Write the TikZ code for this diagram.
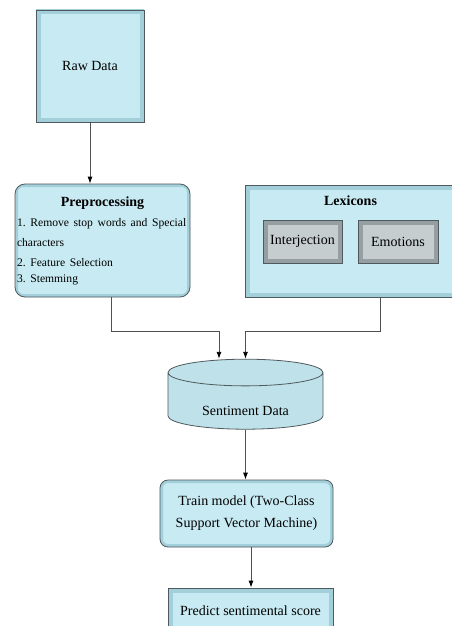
\documentclass[tikz,border=0pt]{standalone}
\usepackage{fontspec}
\setmainfont{Liberation Serif}
\usetikzlibrary{arrows.meta, shapes.geometric}
\frenchspacing

\definecolor{boxblue}{HTML}{C8EAF2}
\definecolor{bevelblue}{HTML}{A3CFDA}
\definecolor{cylblue}{HTML}{BFE2EA}
\definecolor{edgegray}{HTML}{4F5A5E}
\definecolor{innergray}{HTML}{C5CDCE}
\definecolor{bevelgray}{HTML}{959EA0}
\definecolor{linkgray}{HTML}{505050}

\tikzset{
  box/.style={draw=edgegray, line width=0.8pt, fill=boxblue, font=\fontsize{14}{16}\selectfont},
  bevel/.style={path picture={\draw[#1, line width=9pt] (path picture bounding box.north west) rectangle (path picture bounding box.south east);}},
  softedge/.style={path picture={\draw[#1, line width=6pt, rounded corners=8pt] (path picture bounding box.north west) rectangle (path picture bounding box.south east);}},
  innerbox/.style={draw=edgegray, line width=0.8pt, fill=innergray, bevel=bevelgray, font=\fontsize{14}{16}\selectfont},
  cyl/.style={draw=edgegray, line width=0.8pt, fill=cylblue, cylinder, shape border rotate=90, aspect=4},
  link/.style={draw=linkgray, line width=0.9pt, -{Latex[length=7pt, width=5pt, color=black]}}
}

\begin{document}
\begin{tikzpicture}[x=1pt, y=-1pt]
  \useasboundingbox[fill=white] (0,0) rectangle (452,626);

  % input side
  \node[box, bevel=bevelblue, minimum width=108pt, minimum height=112pt] (raw) at (90,66) {Raw Data};
  \node[box, rounded corners=10pt, softedge=bevelblue, minimum width=175pt, minimum height=113pt,
        text width=171pt, align=left, inner xsep=2pt] (pre) at (102.5,240.5)
    {{\centering\bfseries Preprocessing\par}
     \fontsize{11.6}{20}\selectfont
     \mbox{1. Remove stop words and Special}\\ characters\\ 2. Feature Selection\\ 3. Stemming};
  \node[box, bevel=bevelblue, minimum width=211pt, minimum height=112pt,
        label={[anchor=north, yshift=-8pt, font=\fontsize{14}{16}\selectfont\bfseries]north:Lexicons}] (lex) at (350.5,241) {};
  \node[innerbox, minimum width=79pt, minimum height=43pt] (interj) at (302.5,241.5) {Interjection};
  \node[innerbox, minimum width=80pt, minimum height=43pt] (emo) at (398,241.5) {Emotions};

  % model side
  \node[cyl, minimum width=155pt, minimum height=70pt,
        label={[yshift=-8pt, font=\fontsize{14}{16}\selectfont]center:Sentiment Data}] (sent) at (245.5,403) {};
  \node[box, rounded corners=8pt, softedge=bevelblue, minimum width=173pt, minimum height=67pt,
        align=center, font=\fontsize{14}{22}\selectfont] (train) at (246.5,513.5)
    {Train model (Two-Class\\Support Vector Machine)};
  \node[box, bevel=bevelblue, minimum width=165pt, minimum height=46pt] (pred) at (250.5,611) {Predict sentimental score};

  % connectors
  \draw[link] (raw.south) -- (raw.south |- pre.north);
  \draw[link] ([xshift=8.5pt]pre.south) -- ++(0,34) -| ([xshift=-26.5pt]sent.north);
  \draw[link] ([xshift=29.5pt]lex.south) -- ++(0,34) -| (sent.north);
  \draw[link] (sent.south) -- (sent.south |- train.north);
  \draw[link] ([xshift=4.5pt]train.south) -- ([xshift=4.5pt]train.south |- pred.north);
\end{tikzpicture}
\end{document}
